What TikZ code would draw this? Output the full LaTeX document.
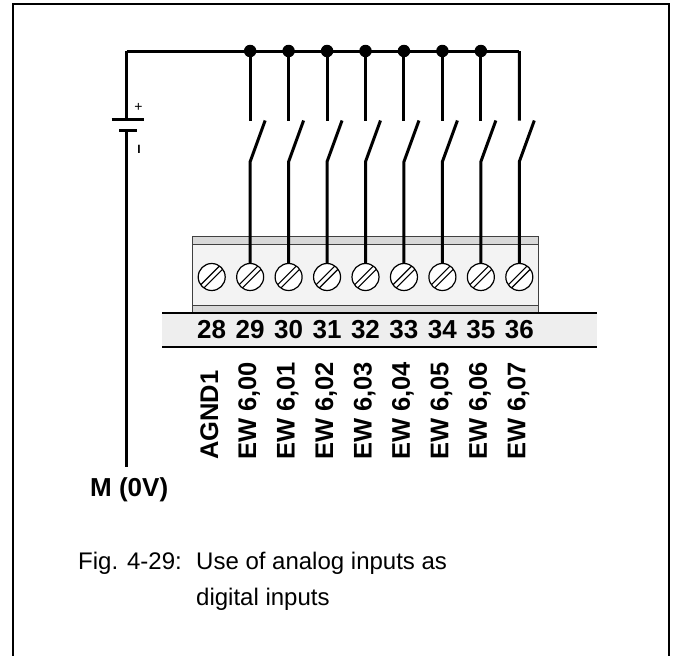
\documentclass[tikz,border=0pt]{standalone}
\usepackage{fontspec}
\setmainfont{Liberation Sans}
\definecolor{stripgray}{HTML}{D8D8D8}
\definecolor{bodygray}{HTML}{F3F3F3}
\definecolor{labelgray}{HTML}{EEEEEE}
\definecolor{edgegray}{HTML}{404040}
\begin{document}
\begin{tikzpicture}[x=1pt,y=-1pt,
  wire/.style={line width=3pt},
  frameline/.style={line width=1.6pt},
  dotnode/.style={circle,fill=black,inner sep=0pt,minimum size=12.5pt},
  terminal/.style={circle,draw=black,fill=white,line width=1.2pt,inner sep=0pt,minimum size=27pt},
  slash/.style={line width=1.1pt},
  numlabel/.style={font=\fontsize{26}{26}\selectfont\bfseries,inner sep=0pt,anchor=base},
  rotlabel/.style={font=\fontsize{25.5}{25.5}\selectfont\bfseries,inner sep=0pt,rotate=90,anchor=base west},
  captext/.style={font=\fontsize{24}{24}\selectfont,inner sep=0pt,anchor=base west},
  plate/.style={line width=3pt}]
\useasboundingbox (0,0) rectangle (675,656);
% frame
\draw[frameline] (13,656) -- (13,4) -- (669,4) -- (669,656);
% terminal block
\fill[stripgray] (192.7,236) rectangle (538.5,313);
\fill[bodygray] (192.7,244) rectangle (538.5,305);
\draw[edgegray,line width=0.9pt] (192.7,313) -- (192.7,236) -- (538.5,236) -- (538.5,313);
\draw[edgegray,line width=0.9pt] (192.7,244) -- (538.5,244);
\draw[edgegray,line width=0.9pt] (192.7,305) -- (538.5,305);
% label strip
\fill[labelgray] (162,313) rectangle (597,347);
\draw[line width=2.2pt] (162,313) -- (597,313);
\draw[line width=2.2pt] (162,347) -- (597,347);
% terminals
\foreach \k in {0,...,8} {
  \pgfmathsetmacro{\xx}{211.7+38.45*\k}
  \pgfmathtruncatemacro{\nn}{28+\k}
  \node[terminal] (t\k) at (\xx,277) {};
  \draw[slash] ([shift={(-7.8,11.0)}]t\k.center) -- ([shift={(11.0,-7.8)}]t\k.center);
  \draw[slash] ([shift={(-11.0,7.8)}]t\k.center) -- ([shift={(7.8,-11.0)}]t\k.center);
  \node[numlabel] (n\k) at (\xx,338.5) {\nn};
}
\node[rotlabel] (l0) at (218,460) {AGND1};
\foreach \k in {1,...,8} {
  \pgfmathsetmacro{\xx}{211.7+38.45*\k}
  \pgfmathtruncatemacro{\mm}{\k-1}
  \node[rotlabel] (l\k) at (\xx+6,460) {EW 6,0\mm};
  \coordinate (a\k) at (\xx,120.5);
  \coordinate (b\k) at (\xx+15,120.5);
  \coordinate (c\k) at (\xx,161.7);
}
% top wire and dots
\coordinate (tl) at (126.7,51);
\coordinate (tr) at (519.3,51);
\foreach \k in {1,...,7} {
  \pgfmathsetmacro{\xx}{211.7+38.45*\k}
  \node[dotnode] (d\k) at (\xx,51) {};
}
\draw[wire] (tl) -- (tr);
\foreach \k in {1,...,7} {
  \draw[wire] (d\k.center) -- (a\k);
}
\draw[wire] (tr) -- (a8);
\foreach \k in {1,...,8} {
  \draw[wire] (b\k) -- (c\k) -- (t\k.north);
}
% battery
\coordinate (bp) at (126.7,119.3);
\coordinate (bm) at (126.7,130.7);
\coordinate (mb) at (126.7,467);
\draw[wire] (tl) -- (bp);
\draw[plate] (111.7,119.3) -- (144.3,119.3);
\draw[plate] (119.3,130.7) -- (136.7,130.7);
\draw[wire] (bm) -- (mb);
\node[font=\fontsize{14}{14}\selectfont,inner sep=0pt] (plus) at (138.5,107) {+};
\node[font=\fontsize{12}{12}\selectfont\bfseries,inner sep=0pt] (minus) at (139,149) {I};
\node[font=\fontsize{26}{26}\selectfont\bfseries,inner sep=0pt,anchor=base west] (m0v) at (90,496) {M (0V)};
% caption
\node[captext] (fig) at (78,569) {Fig. 4-29:};
\node[captext] (cap1) at (196,569) {Use of analog inputs as};
\node[captext] (cap2) at (196,605) {digital inputs};
\end{tikzpicture}
\end{document}
